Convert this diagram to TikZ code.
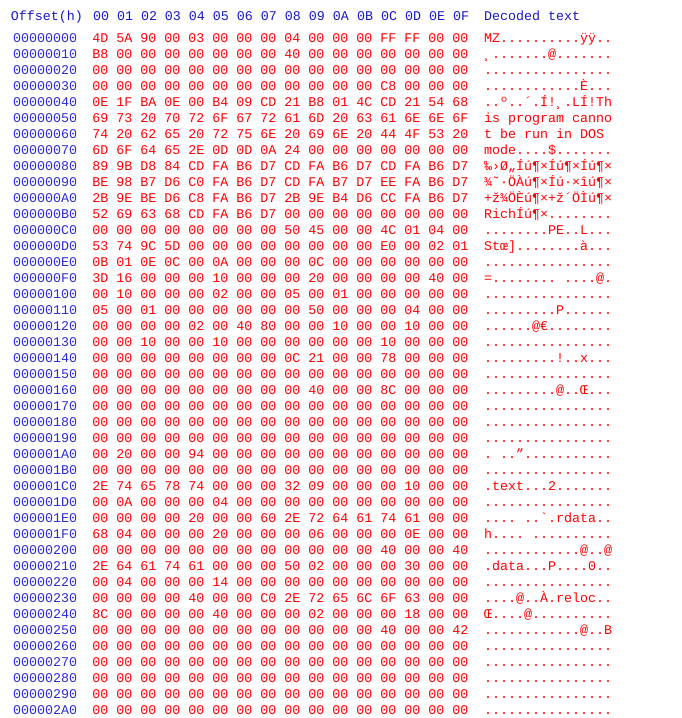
\documentclass[tikz,border=0pt]{standalone}
\usepackage{fontspec}
\setmonofont{Liberation Mono}
\definecolor{hdrblue}{RGB}{25,25,200}
\definecolor{offblue}{RGB}{45,45,215}
\definecolor{hexred}{RGB}{255,0,0}
\tikzset{
  cell/.style={anchor=base west, inner sep=0pt, outer sep=0pt,
    font=\ttfamily\fontsize{10pt}{12pt}\selectfont},
  hdr/.style={cell, text=hdrblue},
  offs/.style={cell, text=offblue},
  hexs/.style={cell, text=hexred}
}
\newcommand\hexrow[4]{%
  \node[offs] (o#1) at (13,{42.3+16*#1}) {#2};
  \node[hexs] (h#1) at (92.3,{42.3+16*#1}) {#3};
  \node[hexs] (d#1) at (484,{42.3+16*#1}) {#4};}
\newcommand\zerorow{00 00 00 00 00 00 00 00 00 00 00 00 00 00 00 00}
\newcommand\dotrow{................}
\begin{document}
\begin{tikzpicture}[x=0.75pt,y=-0.75pt]
\fill[white] (0,0) rectangle (682,718);
\useasboundingbox (0,0) rectangle (682,718);
\node[hdr] (hoff) at (11,20.3) {Offset(h)};
\node[hdr] (hcols) at (93,20.3) {00 01 02 03 04 05 06 07 08 09 0A 0B 0C 0D 0E 0F};
\node[hdr] (hdec) at (484,20.3) {Decoded text};
\hexrow{0}{00000000}{4D 5A 90 00 03 00 00 00 04 00 00 00 FF FF 00 00}{MZ..........ÿÿ..}
\hexrow{1}{00000010}{B8 00 00 00 00 00 00 00 40 00 00 00 00 00 00 00}{¸.......@.......}
\hexrow{2}{00000020}{\zerorow}{\dotrow}
\hexrow{3}{00000030}{00 00 00 00 00 00 00 00 00 00 00 00 C8 00 00 00}{............È...}
\hexrow{4}{00000040}{0E 1F BA 0E 00 B4 09 CD 21 B8 01 4C CD 21 54 68}{..º..´.Í!¸.LÍ!Th}
\hexrow{5}{00000050}{69 73 20 70 72 6F 67 72 61 6D 20 63 61 6E 6E 6F}{is\ program\ canno}
\hexrow{6}{00000060}{74 20 62 65 20 72 75 6E 20 69 6E 20 44 4F 53 20}{t\ be\ run\ in\ DOS}
\hexrow{7}{00000070}{6D 6F 64 65 2E 0D 0D 0A 24 00 00 00 00 00 00 00}{mode....\$.......}
\hexrow{8}{00000080}{89 9B D8 84 CD FA B6 D7 CD FA B6 D7 CD FA B6 D7}{‰›Ø„Íú¶×Íú¶×Íú¶×}
\hexrow{9}{00000090}{BE 98 B7 D6 C0 FA B6 D7 CD FA B7 D7 EE FA B6 D7}{¾˜·ÖÀú¶×Íú·×îú¶×}
\hexrow{10}{000000A0}{2B 9E BE D6 C8 FA B6 D7 2B 9E B4 D6 CC FA B6 D7}{+ž¾ÖÈú¶×+ž´ÖÌú¶×}
\hexrow{11}{000000B0}{52 69 63 68 CD FA B6 D7 00 00 00 00 00 00 00 00}{RichÍú¶×........}
\hexrow{12}{000000C0}{00 00 00 00 00 00 00 00 50 45 00 00 4C 01 04 00}{........PE..L...}
\hexrow{13}{000000D0}{53 74 9C 5D 00 00 00 00 00 00 00 00 E0 00 02 01}{Stœ]........à...}
\hexrow{14}{000000E0}{0B 01 0E 0C 00 0A 00 00 00 0C 00 00 00 00 00 00}{\dotrow}
\hexrow{15}{000000F0}{3D 16 00 00 00 10 00 00 00 20 00 00 00 00 40 00}{=........\ ....@.}
\hexrow{16}{00000100}{00 10 00 00 00 02 00 00 05 00 01 00 00 00 00 00}{\dotrow}
\hexrow{17}{00000110}{05 00 01 00 00 00 00 00 00 50 00 00 00 04 00 00}{.........P......}
\hexrow{18}{00000120}{00 00 00 00 02 00 40 80 00 00 10 00 00 10 00 00}{......@€........}
\hexrow{19}{00000130}{00 00 10 00 00 10 00 00 00 00 00 00 10 00 00 00}{\dotrow}
\hexrow{20}{00000140}{00 00 00 00 00 00 00 00 0C 21 00 00 78 00 00 00}{.........!..x...}
\hexrow{21}{00000150}{\zerorow}{\dotrow}
\hexrow{22}{00000160}{00 00 00 00 00 00 00 00 00 40 00 00 8C 00 00 00}{.........@..Œ...}
\hexrow{23}{00000170}{\zerorow}{\dotrow}
\hexrow{24}{00000180}{\zerorow}{\dotrow}
\hexrow{25}{00000190}{\zerorow}{\dotrow}
\hexrow{26}{000001A0}{00 20 00 00 94 00 00 00 00 00 00 00 00 00 00 00}{.\ ..”...........}
\hexrow{27}{000001B0}{\zerorow}{\dotrow}
\hexrow{28}{000001C0}{2E 74 65 78 74 00 00 00 32 09 00 00 00 10 00 00}{.text...2.......}
\hexrow{29}{000001D0}{00 0A 00 00 00 04 00 00 00 00 00 00 00 00 00 00}{\dotrow}
\hexrow{30}{000001E0}{00 00 00 00 20 00 00 60 2E 72 64 61 74 61 00 00}{....\ ..`.rdata..}
\hexrow{31}{000001F0}{68 04 00 00 00 20 00 00 00 06 00 00 00 0E 00 00}{h....\ ..........}
\hexrow{32}{00000200}{00 00 00 00 00 00 00 00 00 00 00 00 40 00 00 40}{............@..@}
\hexrow{33}{00000210}{2E 64 61 74 61 00 00 00 50 02 00 00 00 30 00 00}{.data...P....0..}
\hexrow{34}{00000220}{00 04 00 00 00 14 00 00 00 00 00 00 00 00 00 00}{\dotrow}
\hexrow{35}{00000230}{00 00 00 00 40 00 00 C0 2E 72 65 6C 6F 63 00 00}{....@..À.reloc..}
\hexrow{36}{00000240}{8C 00 00 00 00 40 00 00 00 02 00 00 00 18 00 00}{Œ....@..........}
\hexrow{37}{00000250}{00 00 00 00 00 00 00 00 00 00 00 00 40 00 00 42}{............@..B}
\hexrow{38}{00000260}{\zerorow}{\dotrow}
\hexrow{39}{00000270}{\zerorow}{\dotrow}
\hexrow{40}{00000280}{\zerorow}{\dotrow}
\hexrow{41}{00000290}{\zerorow}{\dotrow}
\hexrow{42}{000002A0}{\zerorow}{\dotrow}
\end{tikzpicture}
\end{document}
